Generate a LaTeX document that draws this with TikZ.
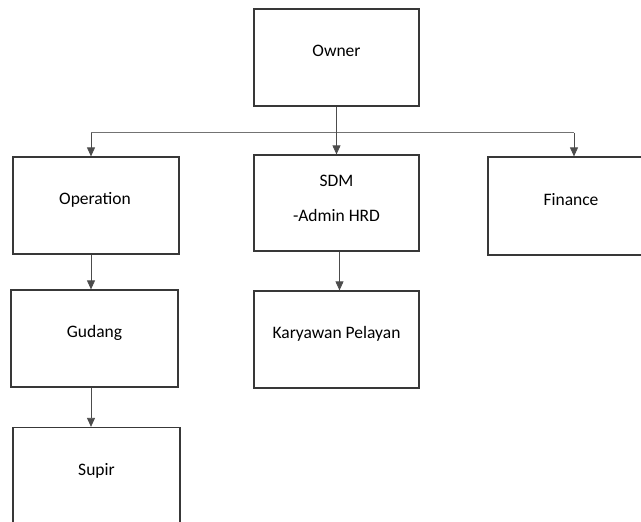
\documentclass[tikz,border=0pt]{standalone}
\usepackage{fontspec}
\setmainfont{Carlito}
\usetikzlibrary{arrows.meta,positioning}
\tikzset{
  box/.style={draw=black!78,line width=1.2pt,rectangle,minimum width=165pt,minimum height=97pt,inner sep=0pt},
  lbl/.style={font=\fontsize{17.5}{21}\selectfont,text=black,align=center,inner sep=0pt},
  conn/.style={draw=black!70,line width=0.8pt,-{Triangle[width=8pt,length=9pt]}},
  bus/.style={draw=black!55,line width=1pt}
}
\def\lbldown{-43.5pt}

\begin{document}
\begin{tikzpicture}[x=1pt,y=1pt]
            \useasboundingbox (0,0) rectangle (641,522);
            \clip (0,0) rectangle (641,522);
            \node[box] (owner)     at (336.5,464.5) {};
            \node[box,minimum width=166pt] (operation) at (96,316.5) {};
            \node[box,minimum height=96pt] (sdm)       at (336.5,319) {};
            \node[box,minimum width=166pt,minimum height=98pt] (finance) at (571,316) {};
            \node[box,minimum width=167pt] (gudang)    at (94.5,183.5) {};
            \node[box] (karyawan)  at (336.5,182.5) {};
            \node[box,minimum width=167pt] (supir)     at (96.5,46) {};

            \node[lbl] (ownerT)     at ([yshift=\lbldown+1.5pt]owner.north) {Owner};
            \node[lbl] (operationT) at ([xshift=-1pt,yshift=\lbldown]operation.north) {Operation};
            \node[lbl] (sdmT)       at ([yshift=\lbldown]sdm.north) {SDM\\[14pt]-Admin HRD};
            \node[lbl] (financeT)   at ([yshift=\lbldown]finance.north) {Finance};
            \node[lbl] (gudangT)    at ([yshift=\lbldown]gudang.north) {Gudang};
            \node[lbl] (karyawanT)  at ([yshift=\lbldown]karyawan.north) {Karyawan Pelayan};
            \node[lbl] (supirT)     at ([yshift=\lbldown]supir.north) {Supir};

            \coordinate (busL) at (91,389);
            \coordinate (busR) at (574,389);
            \draw[bus] (busL) -- (busR);
            \draw[conn] (owner) -- (sdm);
            \draw[conn] (busL) -- (busL |- operation.north);
            \draw[conn] (busR) -- (busR |- finance.north);
            \draw[conn] (busL |- operation.south) -- (busL |- gudang.north);
            \draw[conn] (busL |- gudang.south) -- (busL |- supir.north);
            \draw[conn] ([xshift=3pt]sdm.south) -- ([xshift=3pt]sdm.south |- karyawan.north);
        \end{tikzpicture}
\end{document}
